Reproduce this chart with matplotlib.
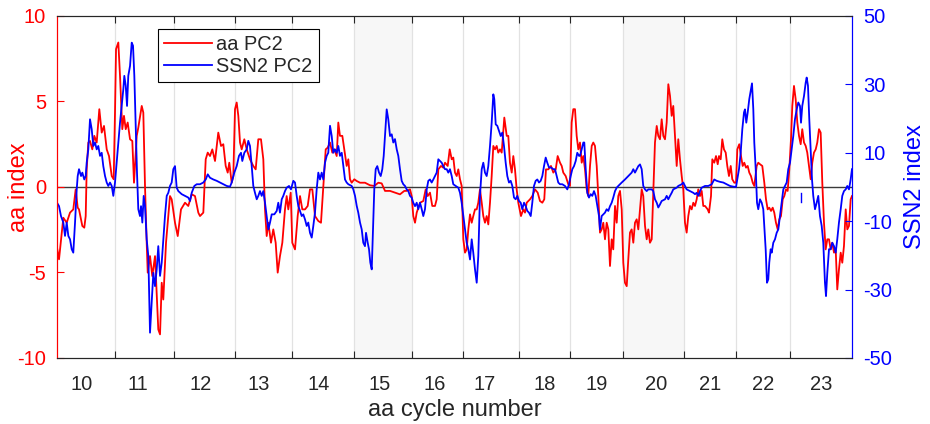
import matplotlib.pyplot as plt

plt.rcParams['font.family'] = ['Liberation Sans', 'DejaVu Sans']
plt.rcParams['axes.unicode_minus'] = False

# aa PC2 (left axis)
aa_year = [1868.0, 1868.37, 1869.16, 1869.78, 1870.39, 1870.99, 1871.43, 1871.80, 1872.04, 1872.65,
           1873.01, 1873.27, 1873.45, 1873.75, 1874.06, 1874.48, 1874.85, 1875.29, 1875.77, 1876.21,
           1876.63, 1877.13, 1877.55, 1878.05, 1878.41, 1878.65, 1878.84, 1879.26, 1879.57, 1879.99,
           1880.30, 1880.62, 1880.98, 1881.41, 1881.83, 1882.14, 1882.64, 1882.93, 1883.56, 1883.85,
           1884.16, 1884.47, 1884.66, 1885.08, 1885.50, 1886.00, 1886.60, 1886.92, 1887.23, 1887.52,
           1888.02, 1888.75, 1889.06, 1889.67, 1890.17, 1890.77, 1891.51, 1892.11, 1892.74, 1893.34,
           1893.95, 1894.26, 1894.87, 1895.31, 1895.68, 1896.10, 1896.52, 1897.02, 1897.62, 1898.12,
           1898.54, 1898.98, 1899.35, 1899.64, 1900.08, 1900.38, 1900.69, 1901.00, 1901.30, 1901.61,
           1901.92, 1902.40, 1902.84, 1903.44, 1904.05, 1904.49, 1904.97, 1905.46, 1905.89, 1906.20,
           1906.51, 1906.81, 1907.30, 1907.72, 1908.16, 1908.53, 1908.95, 1909.38, 1909.87, 1910.18,
           1910.48, 1910.92, 1911.21, 1911.71, 1912.20, 1912.63, 1913.05, 1913.55, 1914.04, 1914.46,
           1914.89, 1915.38, 1915.99, 1916.48, 1916.91, 1917.35, 1917.71, 1918.14, 1918.56, 1918.93,
           1919.37, 1919.66, 1919.97, 1920.40, 1920.76, 1921.20, 1921.50, 1921.81, 1922.12, 1922.60,
           1923.04, 1923.65, 1924.56, 1925.48, 1926.27, 1927.01, 1927.63, 1928.24, 1929.16, 1930.07,
           1930.99, 1931.78, 1932.22, 1932.83, 1933.14, 1933.43, 1933.75, 1934.06, 1934.67, 1935.27,
           1935.71, 1936.08, 1936.50, 1936.92, 1937.42, 1937.73, 1938.03, 1938.52, 1938.94, 1939.26,
           1939.75, 1940.12, 1940.49, 1940.78, 1941.09, 1941.41, 1941.70, 1942.01, 1942.32, 1942.62,
           1942.93, 1943.24, 1943.54, 1943.85, 1944.16, 1944.45, 1944.77, 1945.08, 1945.37, 1945.68,
           1946.00, 1946.29, 1946.60, 1946.91, 1947.21, 1947.52, 1947.83, 1948.13, 1948.44, 1948.75,
           1949.04, 1949.36, 1949.67, 1950.15, 1950.59, 1950.88, 1951.19, 1951.51, 1951.80, 1952.11,
           1952.42, 1952.72, 1953.21, 1953.64, 1953.95, 1954.26, 1954.87, 1955.29, 1955.78, 1956.28,
           1956.70, 1957.13, 1957.49, 1957.80, 1958.23, 1958.72, 1959.15, 1959.59, 1959.95, 1960.38,
           1960.69, 1960.98, 1961.42, 1961.90, 1962.21, 1962.52, 1962.82, 1963.13, 1963.44, 1963.74,
           1964.05, 1964.36, 1964.66, 1964.97, 1965.28, 1965.57, 1965.89, 1966.20, 1966.49, 1966.80,
           1967.12, 1967.41, 1967.72, 1968.03, 1968.33, 1968.64, 1968.95, 1969.25, 1969.56, 1969.87,
           1970.16, 1970.48, 1970.79, 1971.08, 1971.40, 1971.71, 1972.00, 1972.31, 1972.63, 1972.92,
           1973.23, 1973.54, 1973.84, 1974.15, 1974.46, 1974.76, 1975.07, 1975.38, 1975.67, 1975.99,
           1976.30, 1976.59, 1976.90, 1977.22, 1977.51, 1977.82, 1978.14, 1978.43, 1978.74, 1979.05,
           1979.35, 1979.66, 1979.97, 1980.27, 1980.58, 1980.89, 1981.18, 1981.50, 1981.81, 1982.10,
           1982.41, 1982.73, 1983.02, 1983.33, 1983.64, 1983.94, 1984.25, 1984.56, 1984.86, 1985.17,
           1985.48, 1985.77, 1986.09, 1986.40, 1986.69, 1987.01, 1987.50, 1987.74, 1988.11, 1988.35,
           1988.71, 1989.03, 1989.34, 1989.58, 1989.89, 1990.18, 1990.49, 1990.81, 1991.10, 1991.41,
           1991.73, 1992.02, 1992.39, 1992.70, 1992.94, 1993.30, 1993.62, 1993.93, 1994.22, 1994.54,
           1994.85, 1995.14, 1995.45, 1995.77, 1996.06, 1996.50, 1996.79, 1997.11, 1997.53, 1997.90,
           1998.21, 1998.52, 1998.81, 1999.13, 1999.44, 1999.73, 2000.04, 2000.36, 2000.65, 2000.96,
           2001.28, 2001.57, 2001.88, 2002.19, 2002.49, 2002.80, 2003.04, 2003.35, 2003.66, 2003.96,
           2004.27, 2004.58, 2004.87, 2005.19, 2005.50, 2005.79, 2006.10, 2006.42, 2006.71, 2007.02,
           2007.34, 2007.63, 2007.94, 2008.25, 2008.55, 2008.86, 2009.17, 2009.47, 2009.78, 2010.09,
           2010.38, 2010.70, 2011.01, 2011.30, 2011.61, 2011.93, 2012.22, 2012.53, 2012.85, 2013.14,
           2013.45, 2013.76, 2014.00]
aa_pc2 = [-3.55, -4.23, -1.80, -2.09, -1.50, -1.31, -0.14, -1.21, -1.31, -2.28,
          -2.38, -1.70, 1.03, 2.60, 2.69, 2.20, 2.99, 2.60, 4.55, 3.18,
          3.57, 2.20, 1.81, 0.64, 0.45, 4.35, 8.06, 8.45, 6.50, 3.38,
          4.16, 3.38, 3.77, 2.79, 2.69, 0.25, 2.99, 3.47, 4.74, 4.35,
          0.06, -3.26, -5.01, -4.04, -5.21, -4.04, -8.33, -8.62, -5.60, -6.58,
          -3.26, -0.53, -0.72, -2.09, -2.87, -1.31, -0.92, -1.11, -0.43, -0.53,
          -1.50, -1.70, -1.50, 1.62, 2.01, 1.81, 2.20, 1.52, 3.18, 2.40,
          2.50, 1.23, 0.84, 1.42, 0.25, 0.64, 4.55, 4.94, 4.16, 2.60,
          2.20, 2.79, 2.20, 1.62, 1.23, 1.03, 2.79, 2.79, 1.62, -1.31,
          -2.87, -2.09, -3.26, -2.48, -3.26, -5.01, -4.04, -3.26, -1.31, -0.53,
          -1.31, -0.33, -3.26, -3.65, -1.70, -0.53, -1.31, -1.31, -1.11, -0.14,
          -0.14, -1.70, -1.99, -2.09, 0.06, 2.20, 2.30, 2.60, 2.01, 2.20,
          1.81, 3.77, 2.99, 2.99, 2.20, 1.23, 1.62, 0.45, 0.25, 0.45,
          0.35, 0.25, 0.25, 0.10, 0.06, 0.25, 0.21, -0.23, -0.23, -0.33,
          -0.43, -0.23, -0.23, -0.14, -0.53, -1.70, -2.09, -1.50, -0.92, -0.82,
          -0.14, -0.53, -0.33, -1.11, -1.11, -0.72, 1.03, 1.23, 1.13, 1.42,
          1.23, 2.20, 1.62, 1.72, 0.84, 0.64, 1.03, 0.45, 0.06, -3.06,
          -3.84, -3.65, -2.48, -1.60, -2.09, -1.70, -1.31, -1.31, -0.92, -0.14,
          -0.92, -1.70, -2.09, -1.70, -2.19, -0.92, 0.64, 2.40, 2.20, 2.40,
          2.01, 2.20, 2.01, 4.06, 2.99, 2.99, 1.42, 0.84, 1.81, 1.03,
          -0.14, -0.92, -1.70, -1.31, -1.50, -0.92, -0.72, -0.53, -0.14, -0.33,
          -0.82, -0.92, -0.72, 1.03, 1.03, 1.23, 0.84, 1.03, 1.81, 1.42,
          1.23, 0.84, 0.64, 0.16, 0.06, 3.77, 4.55, 4.55, 2.99, 2.20,
          2.60, 1.42, 1.81, 1.03, -0.14, -0.53, 1.23, 2.40, 2.60, 2.40,
          1.23, -0.53, -2.67, -2.48, -2.09, -3.06, -2.09, -2.48, -4.62, -3.06,
          -3.65, -1.11, -2.09, -0.53, -0.23, -1.31, -4.43, -5.60, -5.80, -4.23,
          -2.67, -2.48, -3.26, -2.09, -1.89, -2.48, -1.31, -0.14, -0.53, -2.28,
          -3.06, -2.48, -3.26, -3.06, -0.33, 2.60, 3.57, 2.99, 2.79, 3.96,
          2.99, 2.79, 3.77, 6.01, 5.33, 4.16, 4.74, 2.99, 1.23, 2.79,
          1.62, 0.64, -0.14, -2.09, -2.67, -1.70, -1.11, -1.31, -0.92, -1.11,
          -0.72, -0.14, -0.53, -0.23, -1.11, -1.11, -1.31, -1.50, -0.53, 1.62,
          1.42, 1.81, 1.33, 1.81, 1.62, 2.79, 2.20, 2.01, 1.23, 0.64,
          1.23, 0.45, 0.25, 0.25, 2.20, 2.50, 1.81, 1.23, 1.42, 1.13,
          1.23, 0.84, 0.64, 0.25, 0.06, 1.23, 1.42, 1.33, 1.23, 0.25,
          -0.72, -1.31, -1.21, -1.40, -1.21, -1.50, -2.09, -2.48, -1.89, -1.70,
          -0.72, -0.53, -0.14, -0.23, 1.03, 2.79, 4.74, 5.91, 5.13, 3.77,
          2.99, 2.50, 3.38, 2.60, 2.40, 2.01, 1.23, 0.45, 1.42, 2.01,
          2.20, 2.60, 3.38, 3.18, 0.25, -2.09, -3.65, -3.06, -3.06, -3.65,
          -3.26, -3.84, -3.65, -5.99, -4.82, -3.84, -4.43, -3.45, -1.31, -2.48,
          -2.28, -0.72, -0.53]

# SSN2 PC2 (right axis)
ssn_year = [1868.0, 1868.37, 1868.73, 1869.16, 1869.47, 1869.78, 1870.08, 1870.39, 1870.70, 1870.99,
            1871.31, 1871.62, 1871.80, 1872.04, 1872.41, 1872.65, 1873.01, 1873.27, 1873.45, 1873.75,
            1874.06, 1874.37, 1874.67, 1874.98, 1875.29, 1875.58, 1875.90, 1876.21, 1876.50, 1876.82,
            1877.13, 1877.42, 1877.73, 1878.05, 1878.34, 1878.65, 1878.96, 1879.26, 1879.57, 1879.88,
            1880.18, 1880.36, 1880.62, 1880.86, 1881.09, 1881.41, 1881.72, 1881.96, 1882.20, 1882.45,
            1882.69, 1882.93, 1883.24, 1883.43, 1883.67, 1883.92, 1884.16, 1884.47, 1884.77, 1885.08,
            1885.39, 1885.69, 1886.00, 1886.31, 1886.60, 1886.92, 1887.23, 1887.52, 1887.83, 1888.15,
            1888.44, 1888.75, 1889.06, 1889.36, 1889.67, 1889.98, 1890.28, 1890.90, 1891.51, 1892.11,
            1892.43, 1892.74, 1893.22, 1893.66, 1894.26, 1894.87, 1895.31, 1895.68, 1896.10, 1896.70,
            1897.33, 1897.94, 1898.54, 1899.17, 1899.77, 1900.08, 1900.56, 1901.00, 1901.42, 1901.79,
            1902.03, 1902.40, 1902.84, 1903.13, 1903.44, 1903.76, 1904.05, 1904.36, 1904.68, 1904.97,
            1905.28, 1905.59, 1905.89, 1906.20, 1906.51, 1906.81, 1907.12, 1907.43, 1907.91, 1908.35,
            1908.64, 1908.95, 1909.27, 1909.56, 1909.87, 1910.18, 1910.61, 1910.97, 1911.40, 1911.71,
            1912.02, 1912.32, 1912.63, 1912.94, 1913.23, 1913.55, 1913.86, 1914.15, 1914.46, 1914.78,
            1915.07, 1915.38, 1915.69, 1915.99, 1916.30, 1916.61, 1916.91, 1917.22, 1917.53, 1917.82,
            1918.14, 1918.45, 1918.74, 1919.05, 1919.37, 1919.66, 1919.97, 1920.29, 1920.58, 1920.89,
            1921.20, 1921.50, 1922.12, 1922.42, 1922.73, 1923.04, 1923.33, 1923.65, 1923.96, 1924.25,
            1924.56, 1924.75, 1925.06, 1925.30, 1925.54, 1925.80, 1926.03, 1926.27, 1926.53, 1926.82,
            1927.14, 1927.45, 1927.74, 1928.00, 1928.24, 1928.55, 1928.84, 1929.16, 1929.47, 1929.76,
            1930.07, 1930.39, 1930.68, 1930.99, 1931.30, 1931.60, 1931.91, 1932.22, 1932.52, 1932.83,
            1933.14, 1933.43, 1933.75, 1934.06, 1934.35, 1934.67, 1934.98, 1935.27, 1935.58, 1935.90,
            1936.19, 1936.50, 1936.81, 1937.11, 1937.42, 1937.73, 1938.03, 1938.34, 1938.65, 1938.94,
            1939.26, 1939.57, 1939.86, 1940.17, 1940.49, 1940.78, 1941.22, 1941.70, 1942.01, 1942.32,
            1942.62, 1942.93, 1943.24, 1943.54, 1943.85, 1944.16, 1944.45, 1944.77, 1945.08, 1945.37,
            1945.68, 1946.00, 1946.29, 1946.60, 1946.91, 1947.21, 1947.52, 1947.83, 1948.13, 1948.31,
            1948.57, 1948.86, 1949.17, 1949.49, 1949.78, 1950.09, 1950.40, 1950.70, 1951.01, 1951.32,
            1951.62, 1951.93, 1952.24, 1952.53, 1952.85, 1953.16, 1953.45, 1953.77, 1954.08, 1954.37,
            1954.68, 1955.00, 1955.29, 1955.60, 1955.91, 1956.21, 1956.52, 1956.83, 1957.13, 1957.44,
            1957.75, 1958.04, 1958.36, 1958.72, 1959.15, 1959.46, 1959.77, 1960.06, 1960.38, 1960.80,
            1961.29, 1961.72, 1962.03, 1962.34, 1962.64, 1962.95, 1963.26, 1963.55, 1963.87, 1964.05,
            1964.36, 1964.66, 1964.84, 1965.10, 1965.39, 1965.70, 1966.01, 1966.31, 1966.62, 1966.93,
            1967.23, 1967.54, 1967.72, 1968.03, 1968.33, 1968.64, 1968.95, 1969.25, 1969.56, 1969.87,
            1970.16, 1970.48, 1970.79, 1971.08, 1971.71, 1972.31, 1972.92, 1973.23, 1973.54, 1973.84,
            1974.15, 1974.46, 1974.76, 1975.07, 1975.38, 1975.67, 1975.99, 1976.30, 1976.59, 1977.22,
            1977.51, 1977.82, 1978.14, 1978.43, 1978.74, 1979.05, 1979.66, 1979.97, 1980.27, 1980.58,
            1980.89, 1981.18, 1981.81, 1982.10, 1982.73, 1983.02, 1983.33, 1983.64, 1984.25, 1984.86,
            1985.17, 1985.48, 1985.77, 1986.09, 1986.40, 1987.01, 1987.61, 1988.24, 1988.71, 1989.15,
            1989.76, 1990.37, 1990.99, 1991.60, 1992.20, 1992.70, 1992.94, 1993.25, 1993.56, 1993.86,
            1994.17, 1994.35, 1994.59, 1994.85, 1995.14, 1995.45, 1995.64, 1995.88, 1996.06, 1996.32,
            1996.56, 1996.79, 1997.11, 1997.42, 1997.71, 1997.90, 1998.15, 1998.39, 1998.63, 1998.81,
            1999.07, 1999.26, 1999.55, 1999.86, 2000.17, 2000.47, 2000.78, 2001.09, 2001.39, 2001.70,
            2002.01, 2002.30, 2002.62, 2002.93, 2003.22, 2003.53, 2003.85, 2004.14, 2004.45, 2004.64,
            2004.87, 2005.19, 2005.50, 2005.68, 2005.92, 2006.16, 2006.42, 2006.66, 2006.89, 2007.21,
            2007.52, 2007.81, 2008.12, 2008.44, 2008.73, 2009.04, 2009.23, 2009.47, 2009.78, 2010.09,
            2010.38, 2010.70, 2011.01, 2011.30, 2011.61, 2011.93, 2012.22, 2012.53, 2012.85, 2013.14,
            2013.45, 2013.76, 2014.00]
ssn_pc2 = [-4.6, -5.6, -8.5, -10.4, -14.3, -10.4, -14.3, -15.3, -18.2, -19.2,
           -10.4, -0.7, 3.2, 5.2, 3.2, 4.2, 2.2, 3.2, 7.1, 11.0,
           19.8, 16.9, 12.0, 13.0, 11.0, 12.0, 9.1, 10.0, 6.1, 3.2,
           1.3, 0.3, 1.3, 0.3, -2.6, 1.3, 7.1, 13.0, 18.8, 23.7,
           28.6, 32.5, 29.6, 23.7, 32.5, 35.4, 42.2, 41.3, 32.5, 17.9,
           4.2, -6.5, -8.5, -5.6, -10.4, -2.6, -5.6, -15.3, -20.2, -42.6,
           -33.9, -25.1, -29.0, -24.1, -17.3, -26.0, -22.1, -15.3, -8.5, -2.6,
           -1.7, 0.3, 1.3, 5.2, 6.1, -0.2, -1.2, -2.1, -2.6, -3.1,
           -4.1, -1.7, 0.3, 0.8, 0.8, 1.3, 2.2, 3.7, 2.7, 2.2,
           1.8, 1.3, 0.8, 0.3, 0.1, 1.3, 4.2, 6.1, 9.1, 10.0,
           7.6, 10.0, 11.0, 13.5, 12.0, 6.1, 0.3, -1.7, -3.6, -2.6,
           -1.2, -2.6, -1.2, -4.6, -8.5, -12.4, -10.4, -8.0, -8.0, -7.0,
           -4.6, -7.5, -3.6, -2.6, -1.2, -0.2, 0.3, -0.7, 1.8, 1.3,
           -2.6, -5.6, -7.0, -8.5, -8.0, -9.5, -11.4, -10.4, -13.4, -14.8,
           -11.4, -7.5, -0.7, 4.2, 2.2, 4.2, 2.2, 7.1, 9.1, 10.0,
           17.9, 14.9, 10.0, 11.0, 10.0, 12.0, 9.1, 10.0, 6.1, 2.2,
           1.3, 0.8, 0.3, -0.7, -2.6, -5.5, -7.5, -10.4, -12.4, -16.3,
           -17.3, -13.4, -16.3, -18.2, -22.1, -24.1, -12.4, -0.7, 5.2, 6.1,
           4.2, 3.2, 5.2, 9.1, 14.9, 22.7, 19.8, 14.9, 15.4, 13.0,
           14.0, 11.0, 9.1, 5.2, 1.8, 0.8, 0.3, -0.7, -1.2, -2.6,
           -3.1, -4.6, -5.6, -4.6, -6.5, -4.6, -6.5, -8.5, -6.5, -0.7,
           1.8, 2.2, 1.3, 2.2, 3.2, 4.2, 8.1, 7.6, 7.1, 6.1,
           5.2, 5.2, 4.2, 5.2, 3.2, 0.8, 0.3, -0.2, -1.7, -4.6,
           -8.5, -12.4, -16.3, -18.2, -21.2, -15.3, -19.2, -24.1, -28.0, -20.2,
           -2.6, 5.2, 7.1, 4.2, 3.2, 6.1, 12.0, 18.8, 27.1, 25.7,
           18.3, 17.9, 16.4, 14.9, 15.9, 12.0, 7.1, 3.2, 1.3, 1.8,
           0.3, -3.1, -3.6, -2.6, -4.1, -4.6, -6.5, -4.6, -5.6, -7.0,
           -7.5, -8.5, -4.6, 0.3, 1.8, 2.2, 1.3, 1.8, 3.2, 6.1,
           8.6, 7.1, 5.7, 5.7, 5.2, 5.2, 3.2, 1.3, 0.8, 0.8,
           0.3, -0.7, 0.8, 3.2, 5.2, 6.1, 7.6, 10.0, 9.1, 9.1,
           11.0, 13.0, 13.0, 5.2, -1.7, -3.1, -2.1, -2.6, -1.2, -2.6,
           -5.6, -8.5, -12.4, -8.5, -8.0, -7.5, -6.5, -7.0, -5.6, -4.6,
           -3.1, -1.2, -0.2, 0.3, 1.3, 2.2, 3.2, 3.7, 4.2, 5.2,
           4.2, 5.2, 6.1, 6.6, 5.2, 0.3, -0.7, -1.2, -0.7, -0.7,
           -1.2, -3.6, -4.6, -6.0, -5.1, -4.1, -3.6, -2.6, -3.6, -2.6,
           -1.7, -0.7, -0.2, 0.3, 0.8, 1.3, 0.3, -0.7, -1.2, -1.7,
           -2.1, -1.7, -2.6, -1.2, -0.2, 0.3, 0.3, 0.8, 2.2, 1.8,
           1.5, 1.3, 0.8, 0.3, 0.1, 0.0, 2.2, 5.2, 10.0, 16.9,
           21.8, 22.7, 18.8, 21.8, 25.7, 28.6, 30.3, 22.7, 13.0, 5.2,
           -4.6, -6.5, -3.6, -4.6, -6.5, -11.4, -18.2, -28.0, -27.0, -22.1,
           -18.2, -19.2, -16.3, -15.3, -13.4, -12.4, -8.5, -4.6, -0.7, 0.3,
           1.3, 5.2, 7.1, 11.0, 14.9, 19.8, 22.7, 24.7, 23.7, 18.8,
           23.7, 26.6, 30.5, 32.0, 29.6, 19.8, 11.0, 2.2, -2.6, -6.5,
           -4.6, -2.6, -8.5, -11.4, -16.3, -28.0, -31.9, -25.1, -18.2, -18.2,
           -16.3, -17.3, -19.2, -15.3, -10.4, -6.5, -2.6, -1.2, -0.7, 0.3,
           -0.7, 2.2, 5.2]

# isolated SSN2 fragment in cycle 22
ssn_frag_year = [2004.55, 2004.55]
ssn_frag = [-1.8, -4.3]

# cycle boundaries (aa minima) and label positions
cycle_starts = [1878.7, 1889.4, 1900.6, 1911.2, 1922.6, 1933.2, 1942.6,
                1952.8, 1962.3, 1972.0, 1983.15, 1992.7, 2002.7]
cycle_numbers = [10, 11, 12, 13, 14, 15, 16, 17, 18, 19, 20, 21, 22, 23]
label_years = [1872.5, 1882.9, 1894.3, 1905.0, 1916.0, 1927.3, 1937.4,
               1946.6, 1957.6, 1967.1, 1978.1, 1987.9, 1997.7, 2008.4]
shaded_cycles = [15, 20]

t0, t1 = 1868.0, 2014.0
dark = '#262626'

fig = plt.figure(figsize=(9.3, 4.24), dpi=100)
ax = fig.add_axes([0.0613, 0.1557, 0.8548, 0.8066])
ax2 = ax.twinx()

edges = [t0] + cycle_starts + [t1]
for c in shaded_cycles:
    i = cycle_numbers.index(c)
    ax.axvspan(edges[i], edges[i + 1], color='#f7f7f7', lw=0, zorder=0)
for b in cycle_starts:
    ax.axvline(b, color='#e2e2e2', lw=0.9, zorder=0.5)
ax.axhline(0, color='#3a3a3a', lw=1.0, zorder=1)

l1, = ax.plot(aa_year, aa_pc2, color='red', lw=1.3, zorder=2)
l2, = ax2.plot(ssn_year, ssn_pc2, color='blue', lw=1.3)
ax2.plot(ssn_frag_year, ssn_frag, color='blue', lw=1.0)

ax.set_xlim(t0, t1)
ax.set_ylim(-10, 10)
ax2.set_ylim(-50, 50)
ax.set_yticks([-10, -5, 0, 5, 10])
ax2.set_yticks([-50, -30, -10, 10, 30, 50])

ax.set_xticks(cycle_starts)
ax.set_xticklabels([])
ax.set_xticks(label_years, minor=True)
ax.set_xticklabels([str(c) for c in cycle_numbers], minor=True)
ax.tick_params(axis='x', which='major', direction='in', length=5, width=0.8,
               top=True, color=dark)
ax.tick_params(axis='x', which='minor', length=0, pad=12, labelsize=14.5,
               labelcolor=dark)
ax.tick_params(axis='y', direction='in', length=5, width=0.8, colors='red',
               labelsize=14.5, pad=8)
ax2.tick_params(axis='y', direction='in', length=5, width=0.8, colors='blue',
                labelsize=14.5, pad=8)

for a in (ax, ax2):
    a.spines['left'].set_color('red')
    a.spines['right'].set_color('blue')
    a.spines['top'].set_color(dark)
    a.spines['bottom'].set_color(dark)

ax.set_xlabel('aa cycle number', fontsize=17, color=dark)
ax.xaxis.set_label_coords(0.5, -0.12)
ax.set_ylabel('aa index', fontsize=17, color='red')
ax.yaxis.set_label_coords(-0.034, 0.5)
ax2.set_ylabel('SSN2 index', fontsize=17, color='blue')
ax2.yaxis.set_label_coords(1.065, 0.5)

leg = ax2.legend([l1, l2], ['aa PC2', 'SSN2 PC2'], loc='upper left',
                 bbox_to_anchor=(0.1274, 0.961), borderaxespad=0,
                 fancybox=False, edgecolor='black', framealpha=1,
                 fontsize=14.4, handlelength=2.4, handletextpad=0.2,
                 borderpad=0.3, labelspacing=0.15)
leg.get_frame().set_linewidth(0.8)
for txt in leg.get_texts():
    txt.set_color(dark)

fig.savefig('out.png', dpi=100)
